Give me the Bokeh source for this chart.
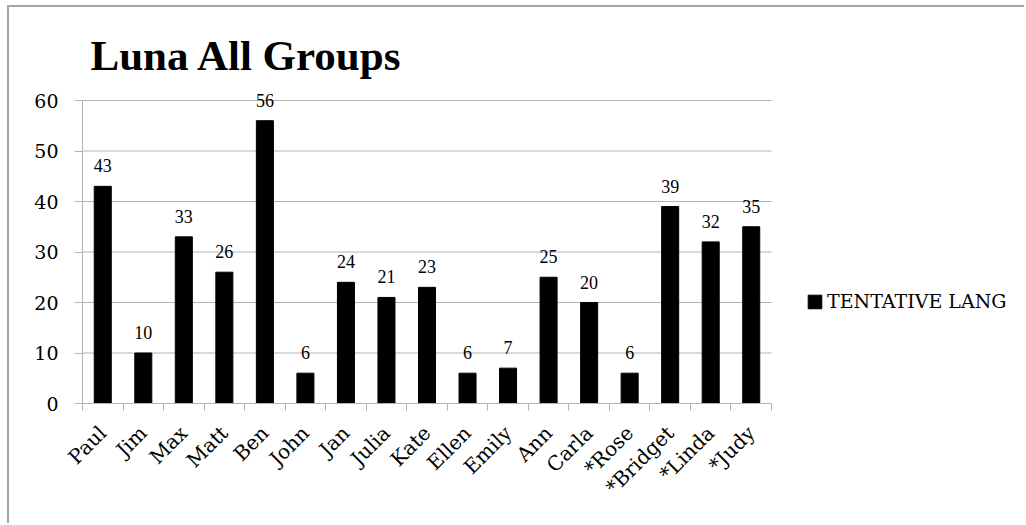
from bokeh.plotting import figure
from bokeh.models import (ColumnDataSource, FixedTicker, LabelSet, Label, Legend,
                          LegendItem, Range1d)
from bokeh.embed import file_html
from bokeh.resources import INLINE

names = ["Paul", "Jim", "Max", "Matt", "Ben", "John", "Jan", "Julia", "Kate",
         "Ellen", "Emily", "Ann", "Carla", "*Rose", "*Bridget", "*Linda", "*Judy"]
values = [43, 10, 33, 26, 56, 6, 24, 21, 23, 6, 7, 25, 20, 6, 39, 32, 35]
y_ticks = [0, 10, 20, 30, 40, 50, 60]
series_name = "TENTATIVE LANG"
title_text = "Luna All Groups"

FONT = "DejaVu Serif"
TFONT = "Liberation Serif"
GRID = "#b3b3b3"

n = len(names)
xs = list(range(n))
src = ColumnDataSource(dict(x=xs, top=values, label=[str(v) for v in values]))

# page geometry: canvas starts at page (9, 7); plot area x 82..771, y 100..403
W, H = 1026 - 9, 525 - 7
fl = 82 - 9               # frame left in canvas px
fb = 403 - 7              # frame bottom in canvas px
ppx = (771 - 82) / n      # px per category
ppy = (403 - 100) / 60.0  # px per unit
x_end = -0.5 + (W - fl) / ppx
y_end = fb / ppy

p = figure(width=W, height=H, output_backend="svg", toolbar_location=None,
           x_range=Range1d(-0.5, x_end), y_range=Range1d(0, y_end),
           min_border_left=fl, min_border_right=0, min_border_top=0,
           min_border_bottom=H - fb, outline_line_color=None)
p.title.visible = False
p.margin = (5, 0, 0, 7)
p.styles = {"border-top": "2px solid #a6a6a6", "border-left": "2px solid #a6a6a6"}

# horizontal gridlines limited to the category span
p.xgrid.grid_line_color = None
p.ygrid.grid_line_color = None
p.segment(x0=[-0.5] * len(y_ticks), x1=[n - 0.5] * len(y_ticks),
          y0=y_ticks, y1=y_ticks, line_color=GRID, line_width=1)

r = p.vbar(x="x", top="top", width=0.42, source=src, color="black")

# axes
p.xaxis.ticker = FixedTicker(ticks=xs, minor_ticks=[i - 0.5 for i in range(n + 1)])
p.xaxis.bounds = (-0.5, n - 0.5)
p.xaxis.major_label_overrides = {i: nm for i, nm in zip(xs, names)}
p.xaxis.major_label_orientation = 0.785398
p.xaxis.major_tick_line_color = None
p.xaxis.minor_tick_line_color = GRID
p.xaxis.minor_tick_out = 7
p.xaxis.minor_tick_in = 0
p.xaxis.axis_line_color = GRID
p.xaxis.major_label_text_font = FONT
p.xaxis.major_label_text_font_size = "20px"
p.xaxis.major_label_text_color = "black"
p.xaxis.major_label_standoff = 19

p.yaxis.ticker = FixedTicker(ticks=y_ticks, minor_ticks=[])
p.yaxis.bounds = (0, 60)
p.yaxis.major_tick_out = 8
p.yaxis.major_tick_in = 0
p.yaxis.major_tick_line_color = GRID
p.yaxis.axis_line_color = GRID
p.yaxis.major_label_text_font = FONT
p.yaxis.major_label_text_font_size = "19px"
p.yaxis.major_label_text_color = "black"
p.yaxis.major_label_standoff = 16

labels = LabelSet(x="x", y="top", text="label", source=src, y_offset=14,
                  text_align="center", text_baseline="alphabetic",
                  text_font=FONT, text_font_size="18px", text_color="black")
p.add_layout(labels)

title = Label(x=8, y=348, x_units="screen", y_units="screen", text=title_text,
              text_font=TFONT, text_font_size="43px", text_font_style="bold",
              text_baseline="alphabetic", text_color="black")
p.add_layout(title)

legend = Legend(items=[LegendItem(label=series_name, renderers=[r])],
                location=(724, 91), padding=0, margin=0, spacing=0,
                glyph_width=17, glyph_height=17, label_standoff=4,
                label_text_font=FONT, label_text_font_size="19px",
                label_text_color="black",
                border_line_color=None, background_fill_alpha=0)
p.add_layout(legend)

open("out.html", "w").write(file_html(p, INLINE))
